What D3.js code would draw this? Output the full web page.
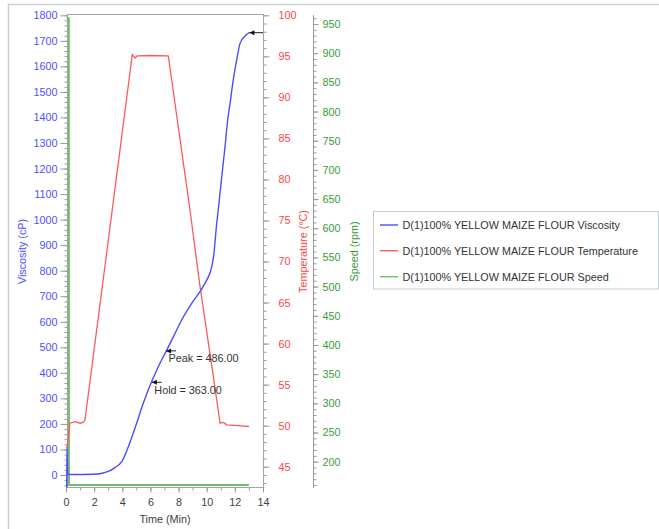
<!DOCTYPE html>
<html>
<head>
<meta charset="utf-8">
<script src="https://cdn.jsdelivr.net/npm/d3@7"></script>
<style>
  html, body { margin: 0; padding: 0; background: #fff; }
  svg { display: block; }
  text { font-family: "Liberation Sans", Arial, sans-serif; font-size: 10.8px; }
</style>
</head>
<body>
<svg id="chart" width="659" height="529"></svg>
<script>
// Pasting profile of a maize flour sample: viscosity, temperature and paddle speed over time.
const timeTicks = [0, 2, 4, 6, 8, 10, 12, 14];
const viscosityTicks = d3.range(0, 1801, 100);
const temperatureTicks = d3.range(45, 101, 5);
const speedTicks = d3.range(200, 951, 50);

const viscTime = [0.05, 0.07, 0.12, 0.4, 1.94, 2.5, 3.13, 3.5, 3.96, 4.43, 4.9, 5.49, 6.09, 6.56, 7.16, 7.63,
  8.22, 8.93, 9.59, 10.0, 10.36, 10.5, 10.71, 10.82, 11.07, 11.3, 11.49, 11.66, 11.85, 12.13, 12.37, 12.72, 13.03];
const viscValue = [-60, 111, 3, 2, 3, 6, 17, 30, 52, 111, 183, 281, 366, 424, 489, 541,
  607, 672, 724, 763, 816, 861, 985, 1038, 1168, 1285, 1390, 1455, 1534, 1625, 1690, 1719, 1732];

const tempTime = [0.07, 0.28, 0.64, 1.0, 1.2, 1.35, 3.0, 4.71, 4.9, 5.05, 6.0, 7.27, 8.81, 9.52, 10.47,
  10.95, 11.2, 11.42, 12.2, 13.0];
const tempValue = [47.4, 50.3, 50.5, 50.3, 50.4, 50.7, 72.5, 95.2, 94.8, 95.05, 95.1, 95.05, 76.3, 67.0, 56.0,
  50.3, 50.4, 50.1, 50.0, 49.9];

const speedTime = [0.05, 0.2, 0.21, 13.0];
const speedValue = [960, 960, 160, 160];

const seriesNames = [
  "D(1)100% YELLOW MAIZE FLOUR Viscosity",
  "D(1)100% YELLOW MAIZE FLOUR Temperature",
  "D(1)100% YELLOW MAIZE FLOUR Speed"
];
const seriesColors = ["#4b4bff", "#ff5a5a", "#6cbf6c"];

const peakTime = 7.11, peakValue = 486.00;
const holdTime = 6.10, holdValue = 363.00;

// layout
const plot = { left: 67, right: 263, top: 14, bottom: 487 };
const speedAxisX = 313.5;

const svg = d3.select("#chart");

// outer panel edge
svg.append("path")
  .attr("d", "M8.5,529 V4.5 H659")
  .attr("fill", "none").attr("stroke", "#c8d0da").attr("stroke-width", 1.5);

const x = d3.scaleLinear().domain([0, 14]).range([66, 263]);
const yV = d3.scaleLinear().domain([0, 1800]).range([475, 15.3]);
const yT = d3.scaleLinear().domain([45, 100]).range([466.7, 15.3]);
const yS = d3.scaleLinear().domain([200, 950]).range([461.7, 24]);

svg.append("rect")
  .attr("x", plot.left + 0.5).attr("y", plot.top + 0.5)
  .attr("width", plot.right - plot.left).attr("height", plot.bottom - plot.top)
  .attr("fill", "#fff").attr("stroke", "#a6a6a6");

const tickColor = "#9a9a9a";

function drawAxis(axis, tx, ty, labelColor) {
  const g = svg.append("g").attr("transform", `translate(${tx},${ty})`).call(axis);
  g.select(".domain").remove();
  g.selectAll(".tick line").attr("stroke", tickColor);
  g.selectAll(".tick text").attr("fill", labelColor)
    .style("font-family", '"Liberation Sans", Arial, sans-serif').style("font-size", "10.8px");
  return g;
}
function minorAxis(axis, tx, ty) {
  const g = svg.append("g").attr("transform", `translate(${tx},${ty})`).call(axis);
  g.select(".domain").remove();
  g.selectAll(".tick line").attr("stroke", tickColor);
  g.selectAll(".tick text").remove();
}

// x axis
minorAxis(d3.axisBottom(x).tickValues(d3.range(0, 14.01, 1)).tickSize(3).tickFormat(""), 0, plot.bottom + 0.5);
drawAxis(d3.axisBottom(x).tickValues(timeTicks).tickSize(5).tickPadding(6).tickFormat(d3.format("d")),
  0, plot.bottom + 0.5, "#404040");

// viscosity axis
minorAxis(d3.axisLeft(yV).tickValues(d3.range(-40, 1801, 20)).tickSize(3).tickFormat(""), plot.left + 0.5, 0);
drawAxis(d3.axisLeft(yV).tickValues(viscosityTicks).tickSize(7).tickPadding(3).tickFormat(d3.format("d")),
  plot.left + 0.5, 0, "#5050ff");

// temperature axis
minorAxis(d3.axisRight(yT).tickValues(d3.range(43, 101, 1)).tickSize(3).tickFormat(""), plot.right + 0.5, 0);
drawAxis(d3.axisRight(yT).tickValues(temperatureTicks).tickSize(6).tickPadding(9).tickFormat(d3.format("d")),
  plot.right + 0.5, 0, "#ff4545");

// speed axis
svg.append("line").attr("x1", speedAxisX).attr("x2", speedAxisX).attr("y1", 15).attr("y2", 488)
  .attr("stroke", tickColor);
minorAxis(d3.axisRight(yS).tickValues(d3.range(160, 961, 10)).tickSize(3).tickFormat(""), speedAxisX, 0);
drawAxis(d3.axisRight(yS).tickValues(speedTicks).tickSize(5).tickPadding(4).tickFormat(d3.format("d")),
  speedAxisX, 0, "#3a9a3a");

// axis titles
const midY = (plot.top + plot.bottom) / 2 + 1;
svg.append("text").attr("transform", `translate(25.5,${midY}) rotate(-90)`)
  .attr("text-anchor", "middle").attr("fill", "#5050ff").text("Viscosity (cP)");
svg.append("text").attr("transform", `translate(306.5,${midY}) rotate(-90)`)
  .attr("text-anchor", "middle").attr("fill", "#ff4545").text("Temperature (°C)");
svg.append("text").attr("transform", `translate(357.5,${midY}) rotate(-90)`)
  .attr("text-anchor", "middle").attr("fill", "#3a9a3a").text("Speed (rpm)");
svg.append("text").attr("x", (plot.left + plot.right) / 2).attr("y", 523)
  .attr("text-anchor", "middle").attr("fill", "#404040").text("Time (Min)");

// curves
svg.append("clipPath").attr("id", "plotClip").append("rect")
  .attr("x", plot.left - 1.5).attr("y", plot.top)
  .attr("width", plot.right - plot.left + 2.5).attr("height", plot.bottom - plot.top + 0.5);
const curves = svg.append("g").attr("clip-path", "url(#plotClip)");

const speedLine = d3.line().x(i => x(speedTime[i])).y(i => yS(speedValue[i]));
curves.append("path").attr("d", speedLine(d3.range(speedTime.length)))
  .attr("fill", "none").attr("stroke", seriesColors[2]).attr("stroke-width", 2);

const tempLine = d3.line().x(i => x(tempTime[i])).y(i => yT(tempValue[i]));
curves.append("path").attr("d", tempLine(d3.range(tempTime.length)))
  .attr("fill", "none").attr("stroke", seriesColors[1]).attr("stroke-width", 1.3);

const viscLine = d3.line().x(i => x(viscTime[i])).y(i => yV(viscValue[i])).curve(d3.curveMonotoneX);
curves.append("path").attr("d", viscLine(d3.range(viscTime.length)))
  .attr("fill", "none").attr("stroke", seriesColors[0]).attr("stroke-width", 1.4);

// point markers
function marker(px, py, len) {
  svg.append("line").attr("x1", px).attr("x2", px + len).attr("y1", py).attr("y2", py)
    .attr("stroke", "#222").attr("stroke-width", 1);
  svg.append("path").attr("d", `M${px},${py} L${px + 5},${py - 2.5} L${px + 5},${py + 2.5} Z`)
    .attr("fill", "#111");
}
const pk = [x(peakTime), yV(peakValue)];
marker(pk[0], pk[1], 10);
svg.append("text").attr("x", pk[0] + 2.5).attr("y", pk[1] + 11).attr("fill", "#333")
  .text(`Peak = ${peakValue.toFixed(2)}`);
const hd = [x(holdTime), yV(holdValue)];
marker(hd[0], hd[1], 10);
svg.append("text").attr("x", hd[0] + 2.5).attr("y", hd[1] + 11.5).attr("fill", "#333")
  .text(`Hold = ${holdValue.toFixed(2)}`);
const last = viscTime.length - 1;
marker(x(viscTime[last]), yV(viscValue[last]), plot.right - x(viscTime[last]));

// legend
const legend = svg.append("g");
legend.append("rect").attr("x", 373.5).attr("y", 211.5).attr("width", 285).attr("height", 77.5)
  .attr("fill", "#fff").attr("stroke", "#c4ccd6");
const rowY = [225, 250.7, 276.7];
seriesNames.forEach((name, i) => {
  legend.append("line").attr("x1", 380).attr("x2", 398).attr("y1", rowY[i]).attr("y2", rowY[i])
    .attr("stroke", seriesColors[i]).attr("stroke-width", 1.4);
  legend.append("text").attr("x", 402.5).attr("y", rowY[i] + 3.8).attr("fill", "#333").text(name);
});
</script>
</body>
</html>
